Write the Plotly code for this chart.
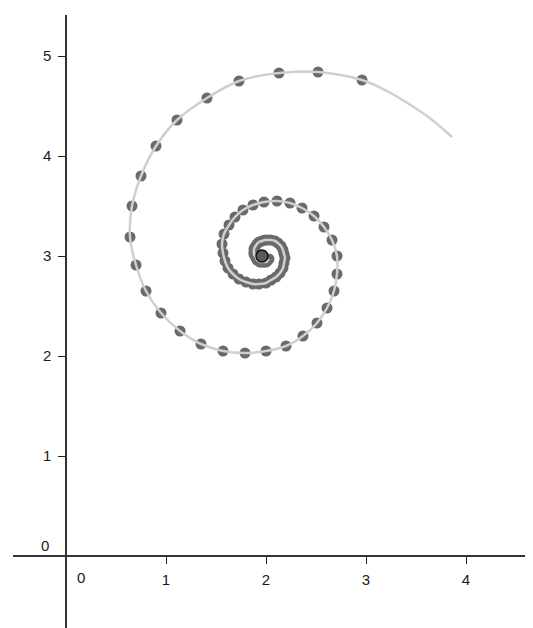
import plotly.graph_objects as go

# spiral centre point
center_x = [1.96]
center_y = [3.00]

# points on the spiral (outer turn, inner turns estimated)
dots_x = [2.96, 2.52, 2.13, 1.73, 1.41, 1.11, 0.90, 0.75, 0.66, 0.64,
          0.70, 0.80, 0.95, 1.14, 1.35, 1.57, 1.79, 2.00, 2.20, 2.37,
          2.51, 2.61, 2.68, 2.71, 2.71, 2.66, 2.58, 2.48, 2.36, 2.24,
          2.11, 1.98, 1.87, 1.77, 1.69, 1.63, 1.58, 1.56, 1.57, 1.59,
          1.62, 1.67, 1.73, 1.80, 1.87, 1.93, 2.00, 2.05, 2.10, 2.14,
          2.17, 2.18, 2.19, 2.18, 2.17, 2.15, 2.12, 2.09, 2.05, 2.02,
          1.99, 1.96, 1.93, 1.91, 1.89, 1.88, 1.88, 1.88, 1.89, 1.90,
          1.91, 1.93, 1.94, 1.96, 1.98, 2.00, 2.01, 2.02, 2.03]
dots_y = [4.76, 4.84, 4.83, 4.75, 4.58, 4.36, 4.10, 3.80, 3.50, 3.19,
          2.91, 2.65, 2.43, 2.25, 2.12, 2.05, 2.03, 2.05, 2.10, 2.20,
          2.33, 2.48, 2.65, 2.82, 3.00, 3.16, 3.29, 3.40, 3.48, 3.53,
          3.55, 3.54, 3.51, 3.46, 3.39, 3.31, 3.22, 3.12, 3.03, 2.95,
          2.88, 2.82, 2.77, 2.74, 2.72, 2.72, 2.73, 2.76, 2.79, 2.83,
          2.88, 2.93, 2.98, 3.02, 3.06, 3.10, 3.13, 3.15, 3.16, 3.16,
          3.16, 3.15, 3.14, 3.12, 3.09, 3.07, 3.04, 3.02, 3.00, 2.98,
          2.96, 2.95, 2.94, 2.94, 2.94, 2.94, 2.95, 2.96, 2.97]

# the curve runs on past the first point up to here
tail_x = [3.86, 3.65, 3.43, 3.21]
tail_y = [4.19, 4.37, 4.52, 4.65]

x_ticks = [1, 2, 3, 4]
y_ticks = [1, 2, 3, 4, 5]

font = dict(family="Liberation Sans, Arial, sans-serif", size=15, color="#1a1a1a")

fig = go.Figure()
fig.add_trace(go.Scatter(x=dots_x, y=dots_y, mode="markers",
                         marker=dict(size=11, color="#6a6a6a", line=dict(width=0))))
fig.add_trace(go.Scatter(x=tail_x + dots_x, y=tail_y + dots_y, mode="lines",
                         line=dict(color="#cfcfcf", width=2.5, shape="spline")))
fig.add_trace(go.Scatter(x=center_x, y=center_y, mode="markers",
                         marker=dict(size=12, color="#5a5a5a", line=dict(color="#111111", width=1.5))))

fig.add_annotation(x=0.15, y=-0.21, text="0", showarrow=False, font=font)
fig.add_annotation(x=-0.21, y=0.11, text="0", showarrow=False, font=font)

# the page adds an 8px body margin, so the plot is laid out 8px up and left
fig.update_layout(
    width=533, height=628,
    margin=dict(l=0, r=0, t=0, b=0),
    paper_bgcolor="white", plot_bgcolor="white",
    showlegend=False,
    font=font,
)
fig.update_xaxes(domain=[4.5 / 533, 518 / 533], range=[-0.535, 4.60],
                 anchor="free", position=80 / 628,
                 showgrid=False, zeroline=False,
                 showline=True, linecolor="#333333", linewidth=1.5,
                 ticks="outside", ticklen=7, tickwidth=1, tickcolor="#222222",
                 tickvals=x_ticks, tickfont=font, ticklabelstandoff=3)
fig.update_yaxes(domain=[0, 621 / 628], range=[-0.80, 5.41],
                 anchor="free", position=58 / 533,
                 showgrid=False, zeroline=False,
                 showline=True, linecolor="#333333", linewidth=1.5,
                 ticks="outside", ticklen=7, tickwidth=1, tickcolor="#222222",
                 tickvals=y_ticks, tickfont=font, ticklabelstandoff=4)

fig.write_html("out.html")
